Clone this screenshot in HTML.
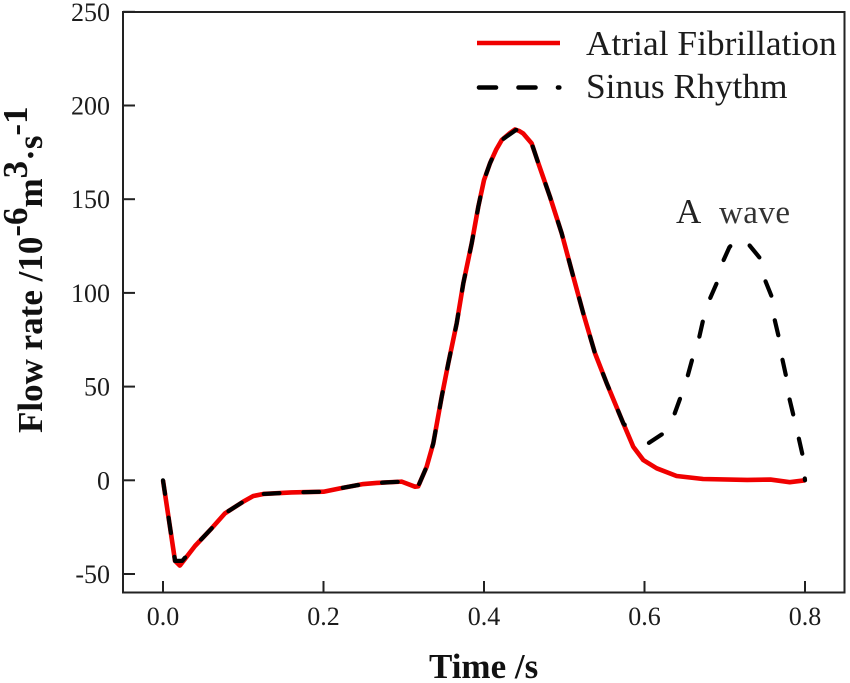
<!DOCTYPE html>
<html>
<head>
<meta charset="utf-8">
<title>Flow rate chart</title>
<style>
html,body{margin:0;padding:0;background:#fff;}
svg{display:block;font-family:"Liberation Serif",serif;}
</style>
</head>
<body>
<svg id="chart" width="850" height="683" viewBox="0 0 850 683" xmlns="http://www.w3.org/2000/svg">
<rect x="0" y="0" width="850" height="683" fill="#fff"/>
<g id="marks"></g>
<rect x="123" y="12" width="721.5" height="580.5" fill="none" stroke="#222" stroke-width="2"/>
<g id="axes"></g>
<text transform="translate(42 433) rotate(-90)" font-size="35" font-weight="bold" fill="#111">Flow rate /10<tspan dy="-15">-6</tspan><tspan dy="15">m</tspan><tspan dy="-15">3</tspan><tspan dy="15">·s</tspan><tspan dy="-15">-1</tspan></text>
<text x="429" y="678" font-size="35" font-weight="bold" fill="#111">Time /s</text>
<g>
<line x1="477" y1="43" x2="560" y2="43" stroke="#f00000" stroke-width="4.6"/>
<text x="586" y="55" font-size="35.4" fill="#1c1c1c">Atrial Fibrillation</text>
<line x1="479" y1="87.5" x2="559.3" y2="87.5" stroke="#000" stroke-width="4.6" stroke-linecap="round" stroke-dasharray="17 22.5"/>
<text x="586" y="98" font-size="35.4" fill="#1c1c1c">Sinus Rhythm</text>
</g>
<text x="676" y="223" font-size="35" fill="#222">A</text>
<text x="719" y="223" font-size="33" fill="#333" textLength="71" lengthAdjust="spacing">wave</text>
</svg>
<script>
const xTicks = [0, 0.2, 0.4, 0.6, 0.8];
const xTickLabels = ["0.0", "0.2", "0.4", "0.6", "0.8"];
const yTicks = [-50, 0, 50, 100, 150, 200, 250];
const yTickLabels = ["-50", "0", "50", "100", "150", "200", "250"];

const afTime = [0, 0.015, 0.021, 0.04, 0.0607, 0.0773, 0.1, 0.1125, 0.125, 0.16, 0.2, 0.2206, 0.2496, 0.2663, 0.2974, 0.314, 0.318, 0.3286, 0.3368, 0.3473, 0.3555, 0.366, 0.3742, 0.3847, 0.3929, 0.4, 0.4075, 0.415, 0.4221, 0.4324, 0.4386, 0.444, 0.449, 0.4594, 0.4677, 0.4822, 0.4968, 0.5113, 0.5237, 0.5383, 0.5529, 0.5736, 0.586, 0.5985, 0.6152, 0.64, 0.673, 0.728, 0.757, 0.781, 0.8];
const afFlow = [0, -43, -45.5, -35, -25.6, -17.6, -11.4, -8.4, -7.3, -6.5, -6.1, -4.3, -2, -1.4, -0.7, -3.4, -3.2, 7.3, 19.7, 44.6, 62.4, 83.8, 105.1, 126.5, 146, 160.2, 169.2, 176.3, 181.6, 185.3, 187.2, 186.4, 185, 179.8, 169.2, 151.3, 131.8, 108.6, 89.1, 67.8, 51.8, 30.4, 17.9, 10.8, 6.4, 2.3, 0.7, 0.2, 0.4, -1, 0];

const srTime = [0, 0.015, 0.024, 0.04, 0.0607, 0.0773, 0.1, 0.1125, 0.125, 0.16, 0.2, 0.2206, 0.2496, 0.2663, 0.2974, 0.314, 0.318, 0.3286, 0.3368, 0.3473, 0.3555, 0.366, 0.3742, 0.3847, 0.3929, 0.4, 0.4075, 0.415, 0.4221, 0.44, 0.449, 0.4594, 0.4677, 0.4822, 0.4968, 0.5113, 0.5237, 0.5383, 0.5529, 0.5736, 0.5885, 0.6035, 0.6234, 0.6372, 0.6455, 0.6538, 0.66, 0.668, 0.6733, 0.6808, 0.6908, 0.697, 0.7057, 0.7153, 0.7281, 0.744, 0.7493, 0.7585, 0.7618, 0.7672, 0.7713, 0.7763, 0.78, 0.7855, 0.7913, 0.7967, 0.8];
const srFlow = [0, -43, -43, -35, -25.6, -17.6, -11.4, -8.4, -7.3, -6.5, -6.1, -4.3, -2, -1.4, -0.7, -3.4, -3.2, 7.3, 19.7, 44.6, 62.4, 83.8, 105.1, 126.5, 146, 160.2, 169.2, 176.3, 181.6, 187, 185, 179.8, 169.2, 151.3, 131.8, 108.6, 89.1, 67.8, 51.8, 30.4, 24, 19.4, 25, 35.2, 45, 55.7, 65.4, 76, 86, 96.2, 106, 116, 124.3, 129, 126.8, 118.5, 107.8, 98, 86.4, 76.6, 65.6, 55.8, 44.6, 34.8, 24.2, 14, 0];

const SVGNS = "http://www.w3.org/2000/svg";
const xScale = t => 163 + t * 802.5;
const yScale = v => 480.3 - v * 1.874;
const marks = document.getElementById("marks");
const axes = document.getElementById("axes");

function makeLine(ts, vs, color, width) {
  const p = document.createElementNS(SVGNS, "polyline");
  p.setAttribute("points", ts.map((t, i) => xScale(t).toFixed(2) + "," + yScale(vs[i]).toFixed(2)).join(" "));
  p.setAttribute("fill", "none");
  p.setAttribute("stroke", color);
  p.setAttribute("stroke-width", width);
  p.setAttribute("stroke-linejoin", "round");
  return p;
}

const afLine = makeLine(afTime, afFlow, "#f00000", "4.6");


marks.appendChild(afLine);

const srLine = makeLine(srTime, srFlow, "#000", "4.2");
const srDash = "15.7 24 ".repeat(26) + "15.7 31.7 " + "15.4 24.9 ".repeat(14) + "15.4 1000";
srLine.setAttribute("stroke-dasharray", srDash);
srLine.setAttribute("stroke-dashoffset", "2");
srLine.setAttribute("stroke-linecap", "round");


marks.appendChild(srLine);

xTicks.forEach((t, i) => {
  const x = xScale(t);
  const tick = document.createElementNS(SVGNS, "line");
  
  
  tick.setAttribute("x1", x); tick.setAttribute("x2", x);
  tick.setAttribute("y1", 581); tick.setAttribute("y2", 592.5);
  tick.setAttribute("stroke", "#222"); tick.setAttribute("stroke-width", "2");
  axes.appendChild(tick);
  const label = document.createElementNS(SVGNS, "text");
  
  
  label.setAttribute("x", x); label.setAttribute("y", 625);
  label.setAttribute("text-anchor", "middle");
  label.setAttribute("font-size", "26"); label.setAttribute("fill", "#1c1c1c");
  label.textContent = xTickLabels[i];
  axes.appendChild(label);
});

yTicks.forEach((v, i) => {
  const y = yScale(v);
  const tick = document.createElementNS(SVGNS, "line");
  
  
  tick.setAttribute("x1", 123); tick.setAttribute("x2", 135);
  tick.setAttribute("y1", y); tick.setAttribute("y2", y);
  tick.setAttribute("stroke", "#222"); tick.setAttribute("stroke-width", "2");
  axes.appendChild(tick);
  const label = document.createElementNS(SVGNS, "text");
  
  
  label.setAttribute("x", 110); label.setAttribute("y", y + 9);
  label.setAttribute("text-anchor", "end");
  label.setAttribute("font-size", "26"); label.setAttribute("fill", "#1c1c1c");
  label.textContent = yTickLabels[i];
  axes.appendChild(label);
});
</script>
</body>
</html>
